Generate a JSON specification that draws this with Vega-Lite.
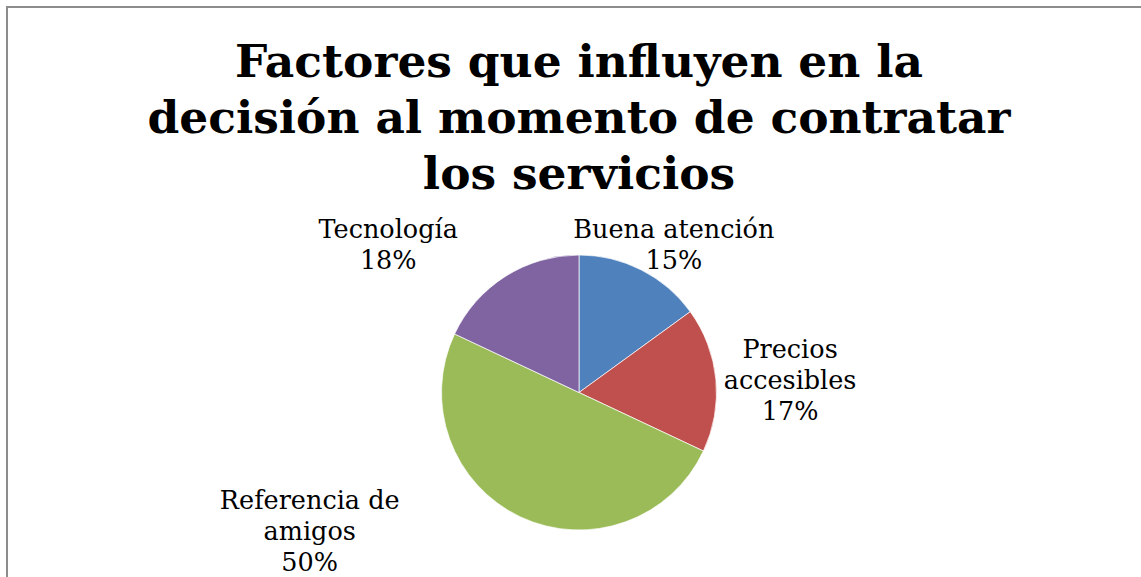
{
  "$schema": "https://vega.github.io/schema/vega-lite/v6.json",
  "width": 1144,
  "height": 771,
  "autosize": {"type": "none"},
  "padding": {"left": 7, "top": 7, "right": -10, "bottom": -201},
  "background": "white",
  "view": {"stroke": "#8c8c8c", "strokeWidth": 2, "fill": "white"},
  "title": {
    "text": ["Factores que influyen en la", "decisión al momento de contratar", "los servicios"],
    "font": "DejaVu Serif",
    "fontSize": 45.5,
    "fontWeight": "bold",
    "color": "black",
    "lineHeight": 56,
    "baseline": "alphabetic",
    "offset": -227,
    "anchor": "middle",
    "frame": "group"
  },
  "data": {
    "values": [
      {"factor": "Buena atención", "pct": 15, "orden": 1, "etiqueta": "Buena atención\n15%"},
      {"factor": "Precios accesibles", "pct": 17, "orden": 2, "etiqueta": "Precios\naccesibles\n17%"},
      {"factor": "Referencia de amigos", "pct": 50, "orden": 3, "etiqueta": "Referencia de\namigos\n50%"},
      {"factor": "Tecnología", "pct": 18, "orden": 4, "etiqueta": "Tecnología\n18%"}
    ]
  },
  "layer": [
    {
      "mark": {"type": "arc", "outerRadius": 137.5, "stroke": "white", "strokeWidth": 0.7},
      "encoding": {
        "theta": {"field": "pct", "type": "quantitative", "stack": true},
        "order": {"field": "orden", "type": "quantitative"},
        "color": {
          "field": "factor",
          "type": "nominal",
          "scale": {
            "domain": ["Buena atención", "Precios accesibles", "Referencia de amigos", "Tecnología"],
            "range": ["#4F81BD", "#C0504D", "#9BBB59", "#8064A2"]
          },
          "legend": null
        }
      }
    },
    {
      "transform": [
        {"stack": "pct", "groupby": [], "sort": [{"field": "orden", "order": "ascending"}], "as": ["t0", "t1"]},
        {"calculate": "(datum.t0 + datum.t1) / 2", "as": "tmid"},
        {"filter": "datum.factor === 'Buena atención'"}
      ],
      "mark": {"type": "text", "font": "DejaVu Serif", "fontSize": 25.5, "lineBreak": "\n", "lineHeight": 31, "align": "center", "baseline": "middle", "dx": 19, "dy": -14, "color": "black"},
      "encoding": {
        "theta": {"field": "tmid", "type": "quantitative"},
        "radius": {"value": 167},
        "text": {"field": "etiqueta"}
      }
    },
    {
      "transform": [
        {"stack": "pct", "groupby": [], "sort": [{"field": "orden", "order": "ascending"}], "as": ["t0", "t1"]},
        {"calculate": "(datum.t0 + datum.t1) / 2", "as": "tmid"},
        {"filter": "datum.factor === 'Precios accesibles'"}
      ],
      "mark": {"type": "text", "font": "DejaVu Serif", "fontSize": 25.5, "lineBreak": "\n", "lineHeight": 31, "align": "center", "baseline": "middle", "dy": -22.5, "color": "black"},
      "encoding": {
        "theta": {"field": "tmid", "type": "quantitative"},
        "radius": {"value": 212},
        "text": {"field": "etiqueta"}
      }
    },
    {
      "transform": [
        {"stack": "pct", "groupby": [], "sort": [{"field": "orden", "order": "ascending"}], "as": ["t0", "t1"]},
        {"calculate": "(datum.t0 + datum.t1) / 2", "as": "tmid"},
        {"filter": "datum.factor === 'Referencia de amigos'"}
      ],
      "mark": {"type": "text", "font": "DejaVu Serif", "fontSize": 25.5, "lineBreak": "\n", "lineHeight": 31, "align": "center", "baseline": "middle", "dx": -205, "dy": -28, "color": "black"},
      "encoding": {
        "theta": {"field": "tmid", "type": "quantitative"},
        "radius": {"value": 151},
        "text": {"field": "etiqueta"}
      }
    },
    {
      "transform": [
        {"stack": "pct", "groupby": [], "sort": [{"field": "orden", "order": "ascending"}], "as": ["t0", "t1"]},
        {"calculate": "(datum.t0 + datum.t1) / 2", "as": "tmid"},
        {"filter": "datum.factor === 'Tecnología'"}
      ],
      "mark": {"type": "text", "font": "DejaVu Serif", "fontSize": 25.5, "lineBreak": "\n", "lineHeight": 31, "align": "center", "baseline": "middle", "dx": -97, "dy": -15, "color": "black"},
      "encoding": {
        "theta": {"field": "tmid", "type": "quantitative"},
        "radius": {"value": 175},
        "text": {"field": "etiqueta"}
      }
    }
  ]
}
